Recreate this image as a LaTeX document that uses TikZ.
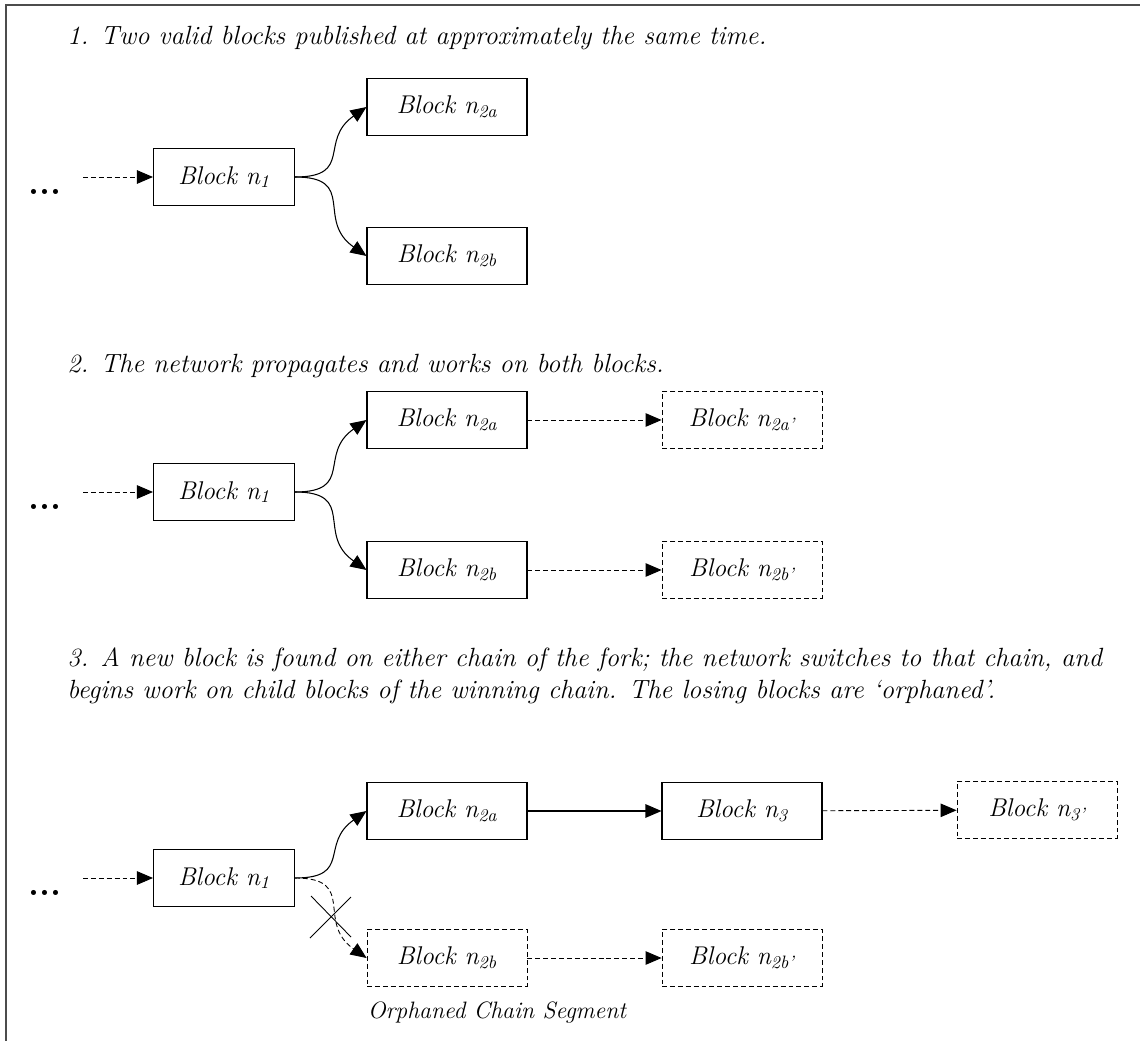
\documentclass[tikz,border=0pt]{standalone}
\usepackage{tikz}
\usetikzlibrary{arrows.meta}

\begin{document}
\begin{tikzpicture}[x=0.02cm, y=-0.02cm,
  block/.style={draw, line width=0.6pt, minimum width=3.2cm, minimum height=1.14cm, inner sep=0pt, font=\fontsize{14.6}{16}\selectfont\itshape},
  first/.style={block, minimum width=2.82cm},
  ghost/.style={block, line width=0.5pt, dash pattern=on 2.8pt off 1.7pt},
  link/.style={line width=0.6pt, -{Triangle[length=0.32cm, width=0.27cm]}},
  faint/.style={link, line width=0.5pt, dash pattern=on 2.8pt off 1.7pt},
  fork/.style={out=0, in=#1, looseness=1.5},
  title/.style={anchor=west, inner sep=0pt, align=left, font=\fontsize{15}{18.5}\selectfont\itshape},
  more/.style={inner sep=0pt, font=\fontsize{20}{22}\selectfont\bfseries}]

 \useasboundingbox (0,0) rectangle (1140,1041);
 \draw [line width=1.2pt, black!70] (6,1041) -- (6,5) -- (1140,5);

 % 1
 \node [title] (t1) at (67,38) {1. Two valid blocks published at approximately the same time.};
 \node [more] (d1) at (45,192) {...};
 \coordinate (s1) at (83,177);
 \node [first] (b1) at (224,177) {Block n\textsubscript{1}};
 \node [block] (b1a) at (447,107) {Block n\textsubscript{2a}};
 \node [block] (b1b) at (447,256) {Block n\textsubscript{2b}};
 \draw [faint] (s1) -- (b1);
 \draw [link] (b1.east) to [fork=215] (b1a.west);
 \draw [link] (b1.east) to [fork=145] (b1b.west);

 % 2
 \node [title] (t2) at (67,366) {2. The network propagates and works on both blocks.};
 \node [more] (d2) at (45,507) {...};
 \coordinate (s2) at (83,492);
 \node [first] (c1) at (224,492) {Block n\textsubscript{1}};
 \node [block] (c1a) at (447,420) {Block n\textsubscript{2a}};
 \node [block] (c1b) at (447,570) {Block n\textsubscript{2b}};
 \node [ghost] (c2a) at (742,420) {Block n\textsubscript{2a'}};
 \node [ghost] (c2b) at (742,570) {Block n\textsubscript{2b'}};
 \draw [faint] (s2) -- (c1);
 \draw [link] (c1.east) to [fork=215] (c1a.west);
 \draw [link] (c1.east) to [fork=145] (c1b.west);
 \draw [faint] (c1a) -- (c2a);
 \draw [faint] (c1b) -- (c2b);

 % 3
 \node [title] (t3) at (67,676) {3. A new block is found on either chain of the fork; the network switches to that chain, and\\begins work on child blocks of the winning chain. The losing blocks are `orphaned'.};
 \node [more] (d3) at (45,893) {...};
 \coordinate (s3) at (83,878);
 \node [first] (e1) at (224,878) {Block n\textsubscript{1}};
 \node [block] (e1a) at (447,811) {Block n\textsubscript{2a}};
 \node [ghost] (e1b) at (447,958) {Block n\textsubscript{2b}};
 \node [block] (e2) at (742,811) {Block n\textsubscript{3}};
 \node [ghost] (e3) at (1037,810) {Block n\textsubscript{3'}};
 \node [ghost] (e2b) at (742,958) {Block n\textsubscript{2b'}};
 \draw [faint] (s3) -- (e1);
 \draw [link] (e1.east) to [fork=215] (e1a.west);
 \draw [faint] (e1.east) to [fork=145] (e1b.west);
 \draw [link] (e1a) -- (e2);
 \draw [faint] (e2) -- (e3);
 \draw [faint] (e1b) -- (e2b);
 \draw [line width=0.5pt] (310,938) -- (351,897);
 \draw [line width=0.5pt] (311,896) -- (351,937);
 \node [inner sep=0pt, font=\fontsize{13.5}{15}\selectfont\itshape] (o) at (497,1013) {Orphaned Chain Segment};
\end{tikzpicture}
\end{document}
